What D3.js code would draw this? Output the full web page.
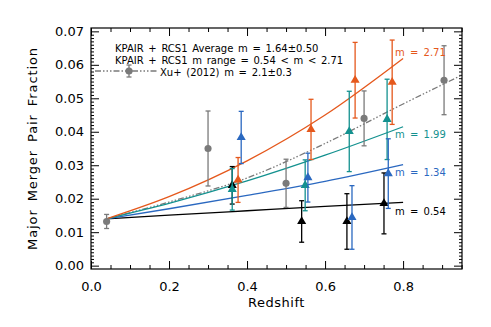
<!DOCTYPE html>
<html>
<head>
<meta charset="utf-8">
<script src="https://cdn.jsdelivr.net/npm/d3@7"></script>
<style>
  body { margin: 0; background: #fff; }
  svg { display: block; }
  text { font-family: "DejaVu Sans", sans-serif; }
</style>
</head>
<body>
<svg width="491" height="327"></svg>
<script>
// **** data ****
var xuZ   = [0.04, 0.30, 0.50, 0.70, 0.905];
var xuF   = [0.0132, 0.0350, 0.0246, 0.0440, 0.0554];
var xuErr = [0.0021, 0.0112, 0.0072, 0.0082, 0.0103];

var blackZ   = [0.362, 0.540, 0.656, 0.751];
var blackF   = [0.0240, 0.0132, 0.0132, 0.0186];
var blackErr = [0.0056, 0.0062, 0.0083, 0.0091];

var tealZ   = [0.362, 0.549, 0.662, 0.759];
var tealF   = [0.0228, 0.0240, 0.0401, 0.0437];
var tealErr = [0.0062, 0.0076, 0.0120, 0.0120];

var blueZ   = [0.385, 0.556, 0.669, 0.762];
var blueF   = [0.0383, 0.0263, 0.0144, 0.0275];
var blueErr = [0.0078, 0.0073, 0.0095, 0.0104];

var orangeZ   = [0.377, 0.564, 0.677, 0.772];
var orangeF   = [0.0256, 0.0407, 0.0554, 0.0548];
var orangeErr = [0.0067, 0.0090, 0.0113, 0.0126];

// model curves (fraction)
var curveZ   = [0.04, 0.2, 0.4, 0.6, 0.8];
var curve054 = [0.0140, 0.0151, 0.0164, 0.0177, 0.0189];
var curve134 = [0.0140, 0.0170, 0.0210, 0.0252, 0.0302];
var curve199 = [0.0140, 0.0186, 0.0253, 0.0330, 0.0415];
var curve271 = [0.0140, 0.0206, 0.0313, 0.0450, 0.0619];
var xuCurveZ = [0.04, 0.2, 0.4, 0.6, 0.8, 0.95];
var xuCurveF = [0.0140, 0.0190, 0.0262, 0.0365, 0.0483, 0.0569];

var xMajor = [0.0, 0.2, 0.4, 0.6, 0.8];
var yMajor = [0.00, 0.01, 0.02, 0.03, 0.04, 0.05, 0.06, 0.07];

var cBlack = "#000000", cTeal = "#13918f", cBlue = "#2a68c0",
    cOrange = "#e5581c", cGrey = "#7a7a7a";

// **** scales ****
var L = 91, R = 462, T = 28, B = 269;
var xScale = d3.scaleLinear().domain([0, 0.951]).range([L, R]);
var yScale = d3.scaleLinear().domain([-0.001, 0.071]).range([B, T]);

var svg = d3.select("svg");

// **** axes (IDL style, inward ticks on all sides) ****
var xMinor = d3.range(0, 0.951, 0.05).filter(function(v){ return Math.abs(v*5 - Math.round(v*5)) > 1e-6; });
var yMinor = d3.range(0, 0.0705, 0.001).filter(function(v){ return Math.abs(v*100 - Math.round(v*100)) > 1e-6; });

function axisStyle(g) {
  g.select(".domain").remove();
  g.selectAll("line").attr("stroke", "#000").attr("stroke-width", 1);
  g.selectAll("text").attr("font-family", "DejaVu Sans").attr("font-size", "13px").attr("fill", "#000");
}

svg.append("g").attr("transform", "translate(0," + B + ")")
  .call(d3.axisBottom(xScale).tickValues(xMajor).tickSize(-8).tickPadding(13).tickFormat(d3.format(".1f")))
  .call(axisStyle);
svg.append("g").attr("transform", "translate(0," + B + ")")
  .call(d3.axisBottom(xScale).tickValues(xMinor).tickSize(-4).tickFormat(""))
  .call(axisStyle);
svg.append("g").attr("transform", "translate(0," + T + ")")
  .call(d3.axisTop(xScale).tickValues(xMajor).tickSize(-8).tickFormat(""))
  .call(axisStyle);
svg.append("g").attr("transform", "translate(0," + T + ")")
  .call(d3.axisTop(xScale).tickValues(xMinor).tickSize(-4).tickFormat(""))
  .call(axisStyle);

svg.append("g").attr("transform", "translate(" + L + ",0)")
  .call(d3.axisLeft(yScale).tickValues(yMajor).tickSize(-8).tickPadding(7).tickFormat(d3.format(".2f")))
  .call(axisStyle);
svg.append("g").attr("transform", "translate(" + L + ",0)")
  .call(d3.axisLeft(yScale).tickValues(yMinor).tickSize(-3).tickFormat(""))
  .call(axisStyle);
svg.append("g").attr("transform", "translate(" + R + ",0)")
  .call(d3.axisRight(yScale).tickValues(yMajor).tickSize(-8).tickFormat(""))
  .call(axisStyle);
svg.append("g").attr("transform", "translate(" + R + ",0)")
  .call(d3.axisRight(yScale).tickValues(yMinor).tickSize(-3).tickFormat(""))
  .call(axisStyle);

svg.append("rect")
  .attr("x", L).attr("y", T).attr("width", R - L).attr("height", B - T)
  .attr("fill", "none").attr("stroke", "#000").attr("stroke-width", 1.2);

svg.append("text")
  .attr("x", (L + R) / 2).attr("y", 307)
  .attr("text-anchor", "middle").attr("font-size", "13px")
  .attr("letter-spacing", "0.5px")
  .text("Redshift");

svg.append("text")
  .attr("transform", "translate(37," + ((T + B) / 2) + ") rotate(-90)")
  .attr("text-anchor", "middle").attr("font-size", "13px")
  .attr("letter-spacing", "0.9px").attr("word-spacing", "3px")
  .text("Major Merger Pair Fraction");

// **** model lines ****
var line = d3.line()
  .x(function(d){ return xScale(d[0]); })
  .y(function(d){ return yScale(d[1]); })
  .curve(d3.curveMonotoneX);

function drawCurve(zs, fs, color, dash) {
  svg.append("path")
    .datum(d3.zip(zs, fs))
    .attr("d", line)
    .attr("fill", "none")
    .attr("stroke", color)
    .attr("stroke-width", 1.3)
    .attr("stroke-dasharray", dash || null);
}

drawCurve(xuCurveZ, xuCurveF, cGrey, "6,2,1.5,2,1.5,2,1.5,2");
drawCurve(curveZ, curve054, cBlack);
drawCurve(curveZ, curve134, cBlue);
drawCurve(curveZ, curve199, cTeal);
drawCurve(curveZ, curve271, cOrange);

// **** data points with error bars ****
function drawPoints(zs, fs, errs, color, shape) {
  var pts = d3.zip(zs, fs, errs);
  var g = svg.append("g");
  var grp = g.selectAll("g").data(pts).enter().append("g");
  grp.append("line")
    .attr("x1", function(d){ return xScale(d[0]); })
    .attr("x2", function(d){ return xScale(d[0]); })
    .attr("y1", function(d){ return yScale(d[1] - d[2]); })
    .attr("y2", function(d){ return yScale(d[1] + d[2]); })
    .attr("stroke", color).attr("stroke-width", 1.3);
  [1, -1].forEach(function(s){
    grp.append("line")
      .attr("x1", function(d){ return xScale(d[0]) - 2.5; })
      .attr("x2", function(d){ return xScale(d[0]) + 2.5; })
      .attr("y1", function(d){ return yScale(d[1] + s * d[2]); })
      .attr("y2", function(d){ return yScale(d[1] + s * d[2]); })
      .attr("stroke", color).attr("stroke-width", 1.3);
  });
  grp.append("path")
    .attr("transform", function(d){ return "translate(" + xScale(d[0]) + "," + yScale(d[1]) + ")"; })
    .attr("d", d3.symbol().type(shape).size(shape === d3.symbolCircle ? 40 : 36))
    .attr("fill", color);
}

drawPoints(xuZ, xuF, xuErr, cGrey, d3.symbolCircle);
drawPoints(blackZ, blackF, blackErr, cBlack, d3.symbolTriangle);
drawPoints(tealZ, tealF, tealErr, cTeal, d3.symbolTriangle);
drawPoints(blueZ, blueF, blueErr, cBlue, d3.symbolTriangle);
drawPoints(orangeZ, orangeF, orangeErr, cOrange, d3.symbolTriangle);

// **** curve labels ****
var mLabels = [["m = 2.71", curve271, cOrange, -6],
               ["m = 1.99", curve199, cTeal, 8],
               ["m = 1.34", curve134, cBlue, 8],
               ["m = 0.54", curve054, cBlack, 9]];
mLabels.forEach(function(m){
  svg.append("text")
    .attr("x", xScale(0.8) - 8)
    .attr("y", yScale(m[1][m[1].length - 1]) + m[3])
    .attr("dy", "0.35em")
    .attr("font-size", "10px")
    .attr("word-spacing", "2px")
    .attr("fill", m[2])
    .text(m[0]);
});

// **** legend ****
var legText = ["KPAIR + RCS1 Average m = 1.64\u00b10.50",
               "KPAIR + RCS1 m range = 0.54 < m < 2.71"];
legText.forEach(function(t, i){
  svg.append("text").attr("x", 115).attr("y", 48 + i * 12).attr("dy", "0.35em")
    .attr("font-size", "10px").attr("word-spacing", "1.5px").text(t);
});
svg.append("line").attr("x1", 95).attr("x2", 157).attr("y1", 71).attr("y2", 71)
  .attr("stroke", cGrey).attr("stroke-width", 1.3).attr("stroke-dasharray", "6,2,1.5,2,1.5,2,1.5,2");
svg.append("line").attr("x1", 129).attr("x2", 129).attr("y1", 65).attr("y2", 77)
  .attr("stroke", cGrey).attr("stroke-width", 1.3);
svg.append("line").attr("x1", 126.5).attr("x2", 131.5).attr("y1", 65).attr("y2", 65)
  .attr("stroke", cGrey).attr("stroke-width", 1.3);
svg.append("line").attr("x1", 126.5).attr("x2", 131.5).attr("y1", 77).attr("y2", 77)
  .attr("stroke", cGrey).attr("stroke-width", 1.3);
svg.append("circle").attr("cx", 129).attr("cy", 71).attr("r", 3.6).attr("fill", cGrey);
svg.append("text").attr("x", 160).attr("y", 72).attr("dy", "0.35em")
  .attr("font-size", "10px").attr("word-spacing", "1.5px").text("Xu+ (2012) m = 2.1\u00b10.3");
</script>
</body>
</html>
